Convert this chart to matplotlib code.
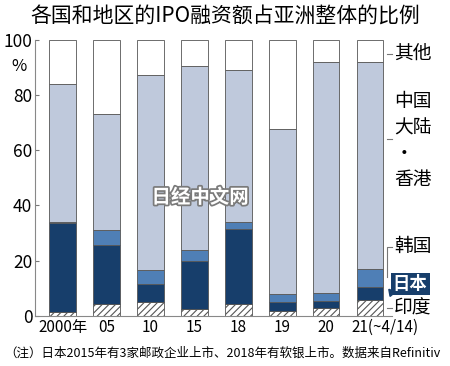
import matplotlib
matplotlib.use("Agg")
import matplotlib.pyplot as plt
import matplotlib.patheffects as pe
import numpy as np

plt.rcParams['font.family'] = ['Noto Sans CJK SC', 'DejaVu Sans']
plt.rcParams['hatch.color'] = '#6a7c96'
plt.rcParams['hatch.linewidth'] = 0.8

years = ["2000年", "05", "10", "15", "18", "19", "20", "21(~4/14)"]
india = [1.3, 4.2, 5.1, 2.4, 4.3, 1.8, 2.7, 5.8]
japan = [32.2, 21.6, 6.3, 17.5, 27.3, 3.4, 2.7, 4.7]
korea = [0.6, 5.4, 5.1, 3.8, 2.4, 2.6, 3.0, 6.4]
china_hk = [50.0, 42.1, 70.8, 66.9, 55.2, 60.0, 83.6, 75.1]
others = [15.9, 26.7, 12.7, 9.4, 10.8, 32.2, 8.0, 8.0]

fig = plt.figure(figsize=(4.5, 3.66), dpi=100)
ax = fig.add_axes([0.078, 0.137, 0.793, 0.754])

x = np.arange(len(years))
w = 0.61
edge = '#555555'
bottom = np.zeros(len(years))
series = [
    (india, 'white', '/////'),
    (japan, '#173e6b', None),
    (korea, '#4f7fb6', None),
    (china_hk, '#bfc9dc', None),
    (others, 'white', None),
]
for vals, col, hatch in series:
    ax.bar(x, vals, w, bottom=bottom, color=col, edgecolor=edge,
           linewidth=0.6, hatch=hatch, zorder=2)
    bottom += np.array(vals)

ax.set_xlim(-0.625, 7.5)
ax.set_ylim(0, 100)
ax.set_yticks([0, 20, 40, 60, 80, 100])
ax.set_yticklabels(['0', '20', '40', '60', '80', '100'], fontsize=12.5,
                   family=['Liberation Sans Narrow', 'Noto Sans CJK SC'])
ax.set_xticks(x)
ax.set_xticklabels(years[:-1] + [''], fontsize=11)
# last label sits off-centre, starting near the bar's left edge
ax.annotate(years[-1], xy=(x[-1] - 0.42, 0), xycoords=('data', 'axes fraction'),
            xytext=(0, -2), textcoords='offset points', ha='left', va='top',
            fontsize=11)
ax.tick_params(axis='y', direction='in', length=3, pad=2, color='#777777')
ax.tick_params(axis='x', length=0, pad=2)
for s in ['top', 'right']:
    ax.spines[s].set_visible(False)
ax.spines['left'].set_color('#888888')
ax.spines['bottom'].set_color('#888888')
ax.text(-1.0, 90.5, '%', fontsize=12, ha='center', va='center',
        clip_on=False)

# right-side labels
kw = dict(fontsize=13.5, ha='left', va='center', clip_on=False)
lc = '#777777'
ax.plot([7.39, 7.5], [95, 95], color=lc, lw=0.8, clip_on=False)
ax.text(7.55, 95, '其他', **kw)
ax.plot([7.39, 7.5], [64, 64], color=lc, lw=0.8, clip_on=False)
ax.text(7.55, 63.5, '中国\n大陆\n·\n香港', linespacing=1.3, **kw)
ax.plot([7.39, 7.39, 7.5], [14, 25, 25], color=lc, lw=0.8, clip_on=False)
ax.text(7.55, 25, '韩国', **kw)
ax.plot([7.47], [8.8], marker=(3, 0, 40), ms=6, color='#173e6b', clip_on=False, zorder=4)
ax.text(7.52, 11.5, '日本', fontsize=12.5, ha='left', va='center', color='white',
        fontweight='bold', clip_on=False,
        bbox=dict(boxstyle='square,pad=0.12', fc='#173e6b', ec='none'))
ax.plot([7.39, 7.5], [3, 3], color=lc, lw=0.8, clip_on=False)
ax.text(7.55, 3, '印度', **kw)

fig.text(0.5, 0.955, '各国和地区的IPO融资额占亚洲整体的比例', fontsize=15,
         ha='center', va='center')
fig.text(0.01, 0.035, '（注）日本2015年有3家邮政企业上市、2018年有软银上市。数据来自Refinitiv',
         fontsize=9, ha='left', va='center')

wm = fig.text(0.445, 0.46, '日经中文网', fontsize=14, fontweight='bold',
              color='white', ha='center', va='center', zorder=5)
wm.set_path_effects([pe.withStroke(linewidth=2.5, foreground='#7a7a7a')])

fig.savefig('out.png', dpi=100)
